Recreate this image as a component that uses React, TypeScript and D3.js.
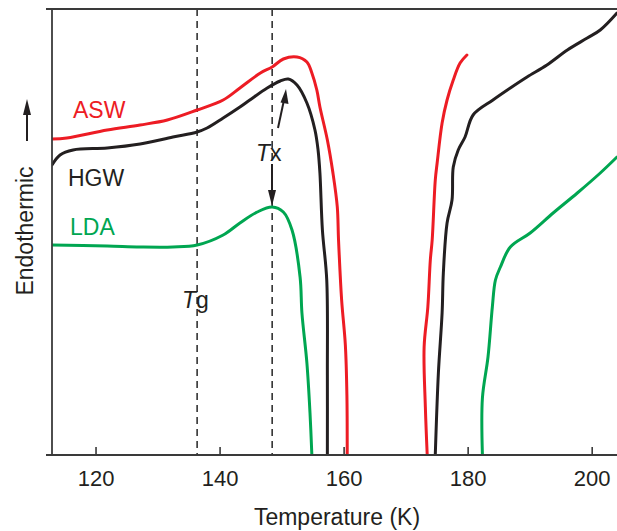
import React from 'react';
import * as d3 from 'd3';

// temperature (K), heat flow (arb. units)
const aswLow: [number, number][] = [
  [112.9, 31.6], [115.3, 31.7], [121.8, 32.5], [127.1, 33.0], [131.5, 33.5],
  [136.3, 34.5], [140.5, 35.5], [143.2, 36.7], [146.5, 38.2], [148.4, 38.8],
  [150.2, 39.6], [152.4, 39.8], [154.0, 39.3], [154.8, 38.2], [155.6, 36.5],
  [156.1, 34.8], [157.3, 31.5], [158.2, 28.2], [158.9, 24.8], [159.1, 21.5],
  [159.6, 15.5], [160.2, 11.0], [160.45, 6.0], [160.5, 0],
];
const aswHigh: [number, number][] = [
  [173.4, 0], [173.1, 4.8], [172.9, 10.8], [173.5, 14.8], [173.9, 19.5],
  [174.2, 21.5], [174.7, 27.5], [175.0, 29.2], [175.8, 33.2], [176.6, 35.5],
  [177.6, 37.5], [178.7, 39.2], [179.8, 40.0],
];
const hgwLow: [number, number][] = [
  [112.9, 29.0], [114.2, 30.0], [116.3, 30.5], [121.8, 30.7], [127.1, 31.1],
  [132.4, 31.8], [136.3, 32.3], [137.9, 32.7], [140.5, 33.7], [143.2, 34.8],
  [144.8, 35.5], [147.6, 36.7], [149.7, 37.4], [151.0, 37.6], [152.4, 37.0],
  [154.0, 35.2], [155.3, 32.5], [155.8, 30.5], [156.1, 28.2], [156.5, 22.5],
  [157.2, 17.5], [157.3, 8.0], [157.3, 0],
];
const hgwHigh: [number, number][] = [
  [174.7, 0], [175.2, 8.2], [175.8, 14.2], [176.0, 18.2], [176.6, 23.2],
  [177.4, 25.5], [177.6, 28.8], [178.4, 30.5], [179.5, 31.8], [180.8, 34.0],
  [184.0, 35.5], [186.8, 36.7], [189.5, 37.8], [192.7, 39.0], [196.0, 40.5],
  [199.2, 41.7], [201.3, 42.5], [204.0, 44.2],
];
const ldaLow: [number, number][] = [
  [112.9, 21.0], [121.8, 20.9], [127.1, 20.8], [132.4, 20.8], [136.3, 21.0],
  [140.5, 22.0], [143.2, 23.2], [146.0, 24.3], [148.4, 24.8], [150.2, 24.3],
  [151.6, 22.5], [152.9, 17.8], [153.2, 14.2], [154.0, 9.2], [154.5, 4.2],
  [154.8, 0],
];
const ldaHigh: [number, number][] = [
  [182.3, 0], [182.3, 5.7], [183.2, 9.8], [183.9, 14.8], [184.4, 17.5],
  [185.2, 18.8], [186.8, 20.8], [190.0, 22.2], [193.7, 24.2], [197.6, 26.2],
  [201.3, 28.2], [204.0, 29.8],
];

const xTicks = [120, 140, 160, 180, 200];
const tg = 136.3;
const tx = 148.4;

const W = 617;
const H = 531;
const left = 52;
const top = 9;
const bottom = 455;

export default function App() {
  const x = d3.scaleLinear().domain([112.9, 204]).range([left, W]);
  const y = d3.scaleLinear().domain([0, 44.6]).range([bottom, top]);
  const line = d3
    .line<[number, number]>()
    .x(d => x(d[0]))
    .y(d => y(d[1]))
    .curve(d3.curveCatmullRom.alpha(0.5));

  const traces = [
    { data: aswLow, color: '#ed1c24' },
    { data: aswHigh, color: '#ed1c24' },
    { data: hgwLow, color: '#231f20' },
    { data: hgwHigh, color: '#231f20' },
    { data: ldaLow, color: '#00a651' },
    { data: ldaHigh, color: '#00a651' },
  ];

  const font = '"Liberation Sans", Arial, sans-serif';
  const axisColor = '#3a3a3a';

  return (
    <svg width={W} height={H} style={{ position: 'absolute', left: 0, top: 0 }} fontFamily={font}>
      <defs>
        <clipPath id="plot">
          <rect x={left} y={top} width={W - left} height={bottom - top} />
        </clipPath>
      </defs>

      {/* dashed markers at Tg and Tx */}
      {[tg, tx].map(t => (
        <line key={t} x1={x(t)} x2={x(t)} y1={top} y2={bottom}
          stroke="#333" strokeWidth={1.6} strokeDasharray="7,5" />
      ))}

      <g clipPath="url(#plot)">
        {traces.map((t, i) => (
          <path key={i} d={line(t.data) ?? ''} fill="none" stroke={t.color}
            strokeWidth={3} strokeLinejoin="round" strokeLinecap="round" />
        ))}
      </g>

      {/* frame */}
      <line x1={46} x2={W} y1={top} y2={top} stroke={axisColor} strokeWidth={1.8} />
      <line x1={left} x2={left} y1={top} y2={bottom} stroke={axisColor} strokeWidth={1.8} />
      <line x1={46} x2={W} y1={bottom} y2={bottom} stroke={axisColor} strokeWidth={1.8} />

      {xTicks.map(t => (
        <g key={t}>
          <line x1={x(t)} x2={x(t)} y1={bottom} y2={bottom - 8} stroke={axisColor} strokeWidth={1.6} />
          <text x={x(t)} y={486} textAnchor="middle" fontSize={22} fill="#231f20">{t}</text>
        </g>
      ))}

      <text x={337} y={525} textAnchor="middle" fontSize={23} fill="#231f20">Temperature (K)</text>

      <text transform="translate(33,231) rotate(-90)" textAnchor="middle" fontSize={23} fill="#231f20">Endothermic</text>
      <line x1={27} x2={27} y1={141} y2={112} stroke="#231f20" strokeWidth={2} />
      <path d="M27,99 L31,115 L23,115 Z" fill="#231f20" />

      <text x={73} y={118} fontSize={23} fill="#ed1c24">ASW</text>
      <text x={68} y={186} fontSize={23} fill="#231f20">HGW</text>
      <text x={70} y={235} fontSize={23} fill="#00a651">LDA</text>

      <text x={256} y={161} fontSize={23} fill="#231f20">
        <tspan fontStyle="italic">T</tspan>x
      </text>
      <text x={182} y={308} fontSize={23} fill="#231f20">
        <tspan fontStyle="italic">T</tspan>g
      </text>

      {/* Tx arrows */}
      <line x1={278} y1={128} x2={284} y2={100} stroke="#231f20" strokeWidth={2} />
      <path d="M286,89 L288.5,104 L280.5,102.5 Z" fill="#231f20" />
      <line x1={272} y1={164} x2={272} y2={194} stroke="#231f20" strokeWidth={2} />
      <path d="M272,206 L276,190 L268,190 Z" fill="#231f20" />
    </svg>
  );
}
